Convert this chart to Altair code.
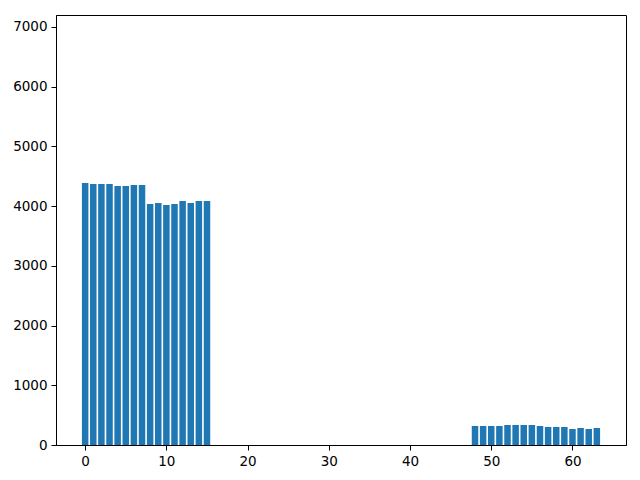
import altair as alt
import pandas as pd

left_idx = list(range(0, 16))
left_vals = [4387, 4371, 4371, 4371, 4337, 4337, 4354, 4354,
             4036, 4053, 4019, 4036, 4086, 4053, 4086, 4086]
right_idx = list(range(48, 64))
right_vals = [318, 318, 318, 318, 335, 335, 335, 335,
              318, 301, 301, 301, 268, 285, 268, 285]

df = pd.DataFrame({"idx": left_idx + right_idx, "value": left_vals + right_vals})

x_ticks = [0, 10, 20, 30, 40, 50, 60]
y_ticks = [0, 1000, 2000, 3000, 4000, 5000, 6000, 7000]

axis_common = dict(
    grid=False,
    domainColor="black",
    domainWidth=1,
    tickColor="black",
    tickWidth=1,
    tickSize=5,
    labelPadding=4,
    labelFont="DejaVu Sans",
    labelFontSize=13.5,
    labelColor="black",
    title=None,
)

chart = (
    alt.Chart(df)
    .transform_calculate(x0="datum.idx - 0.4", x1="datum.idx + 0.4", base="0")
    .mark_bar(color="#1f77b4")
    .encode(
        x=alt.X("x0:Q", scale=alt.Scale(domain=[-3.59, 66.59], nice=False, zero=False),
                axis=alt.Axis(values=x_ticks, format="d", **axis_common)),
        x2="x1:Q",
        y=alt.Y("value:Q", scale=alt.Scale(domain=[0, 7200], nice=False),
                axis=alt.Axis(values=y_ticks, format="d", **axis_common)),
        y2="base:Q",
    )
    .properties(
        width=570,
        height=430,
        background="white",
        autosize=alt.AutoSizeParams(type="none"),
        padding={"left": 48, "top": 7, "right": 6, "bottom": 27},
    )
    .configure_view(stroke="black", strokeWidth=1)
)

chart.save("out.html", embed_options={"renderer": "svg", "actions": False})
